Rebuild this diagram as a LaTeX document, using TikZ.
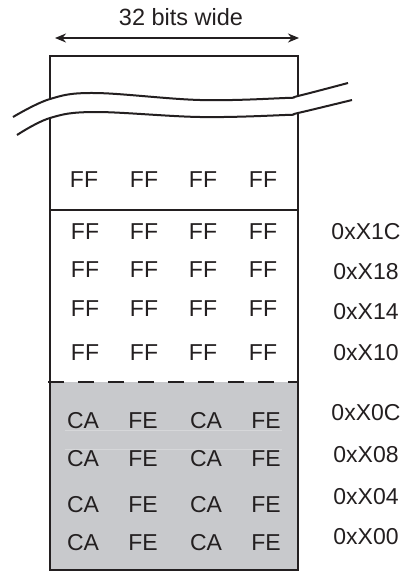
\documentclass[tikz,border=0pt]{standalone}
\usepackage{fontspec}
\setmainfont{Liberation Sans}
\usetikzlibrary{arrows.meta}
\definecolor{ink}{RGB}{35,31,32}
\definecolor{shadegray}{RGB}{200,201,204}
\definecolor{faintline}{RGB}{214,215,217}
\tikzset{
  boxline/.style={draw=ink, line width=2.2pt},
  cell/.style={text=ink, font=\fontsize{23}{25}\selectfont, inner sep=0pt, anchor=center},
  addr/.style={text=ink, font=\fontsize{23}{25}\selectfont, inner sep=0pt, anchor=center},
  title/.style={text=ink, font=\fontsize{23.5}{26}\selectfont, inner sep=0pt},
  wave/.style={draw=ink, line width=2pt},
  dimarrow/.style={draw=ink, line width=2pt, {Stealth[length=11pt,width=9pt]}-{Stealth[length=11pt,width=9pt]}},
  sepdash/.style={draw=ink, line width=2.7pt, dash pattern=on 15.5pt off 14.5pt}
}
\begin{document}
\begin{tikzpicture}[x=1pt,y=-1pt]
\useasboundingbox (0,0) rectangle (407,573);
% shaded lower region
\fill[shadegray] (50,382) rectangle (298,570);
\draw[faintline, line width=0.6pt] (65,430) -- (282,430);
\draw[faintline, line width=0.6pt] (65,449) -- (282,449);
% outer box
\draw[boxline] (50,56) rectangle (298,570);
\draw[boxline] (50,210) -- (298,210);
% break (white band between the waves)
\fill[white] plot[smooth, tension=0.6] coordinates {(13,117) (50,99) (95,93) (200,100) (285,98) (298,96) (348,83)}
  -- plot[smooth, tension=0.6] coordinates {(352,100) (298,113) (285,115) (200,117) (95,112) (50,118) (17,135)} -- cycle;
\draw[wave] plot[smooth, tension=0.6] coordinates {(13,117) (50,99) (95,93) (200,100) (285,98) (298,96) (348,83)};
\draw[wave] plot[smooth, tension=0.6] coordinates {(17,135) (50,118) (95,112) (200,117) (285,115) (298,113) (352,100)};
% dashed separator
\coordinate (dL) at (48,382);
\coordinate (dR) at (299,382);
\draw[sepdash] (dL) -- (dR);
% width arrow
\node[title] (ttl) at (181,17) {32 bits wide};
\coordinate (aL) at (55,38);
\coordinate (aR) at (299,38);
\draw[dimarrow] (aL) -- (aR);
% top FF row
\foreach \x [count=\i] in {84,144,203,263} {
  \node[cell] (t-\i) at (\x,180) {FF};
}
% FF rows
\foreach \y [count=\r] in {232,270,309,353} {
  \foreach \x [count=\i] in {85,144,203,263} {
    \node[cell] (f-\r-\i) at (\x,\y) {FF};
  }
}
% CA FE rows
\foreach \y [count=\r] in {421,459,505,543} {
  \node[cell] (c-\r-1) at (83,\y) {CA};
  \node[cell] (c-\r-2) at (143,\y) {FE};
  \node[cell] (c-\r-3) at (206,\y) {CA};
  \node[cell] (c-\r-4) at (266,\y) {FE};
}
% addresses
\foreach \y/\t in {232/1C,272/18,312/14,353/10,413/0C,455/08,497/04,537/00} {
  \node[addr] (a-\t) at (366,\y) {0xX\t};
}
\end{tikzpicture}
\end{document}
